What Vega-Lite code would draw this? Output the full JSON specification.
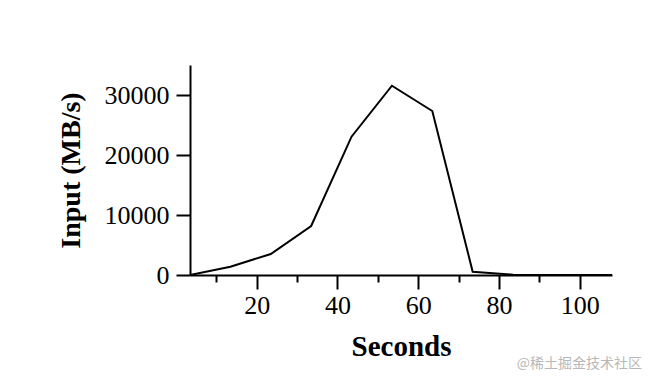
{
  "$schema": "https://vega.github.io/schema/vega-lite/v6.json",
  "autosize": {"type": "none"},
  "width": 422,
  "height": 210,
  "padding": {"left": 190, "top": 65, "right": 44, "bottom": 109},
  "background": "white",
  "config": {
    "view": {"stroke": null},
    "font": "Liberation Serif",
    "axis": {"grid": false, "domainColor": "black", "tickColor": "black", "domainWidth": 2, "tickWidth": 2, "labelColor": "black", "titleColor": "black", "labelFont": "Liberation Serif", "titleFont": "Liberation Serif"}
  },
  "title": {
    "text": "@稀土掘金技术社区",
    "orient": "bottom",
    "anchor": "end",
    "frame": "group",
    "font": "Noto Sans CJK SC",
    "fontSize": 14,
    "fontWeight": "normal",
    "color": "#b8b8b8",
    "offset": -4,
    "dx": 30
  },
  "data": {"values": [
    {"t": 3.5, "v": 0},
    {"t": 13.5, "v": 1380},
    {"t": 23.5, "v": 3500},
    {"t": 33.5, "v": 8170},
    {"t": 43.5, "v": 23050},
    {"t": 53.5, "v": 31550},
    {"t": 63.5, "v": 27330},
    {"t": 73.5, "v": 550},
    {"t": 83.5, "v": 60},
    {"t": 93.5, "v": 10},
    {"t": 103.5, "v": 0},
    {"t": 108, "v": 0}
  ]},
  "resolve": {"axis": {"x": "independent"}},
  "layer": [
    {
      "mark": {"type": "line", "color": "black", "strokeWidth": 2, "clip": true},
      "encoding": {
        "x": {"field": "t", "type": "quantitative", "scale": {"domain": [3.5, 108], "nice": false, "zero": false},
          "axis": {"orient": "bottom", "values": [20, 40, 60, 80, 100], "tickSize": 14, "labelFontSize": 26, "labelPadding": 3, "title": "Seconds", "titleFontSize": 29, "titleFontWeight": "bold", "titlePadding": 14, "labelFlush": false}},
        "y": {"field": "v", "type": "quantitative", "scale": {"domain": [0, 35000], "nice": false},
          "axis": {"values": [0, 10000, 20000, 30000], "format": "d", "tickSize": 14, "labelFontSize": 26, "labelPadding": 7, "title": "Input (MB/s)", "titleFontSize": 28, "titleFontWeight": "bold", "titlePadding": 19, "labelFlush": false}}
      }
    },
    {
      "mark": {"type": "line", "opacity": 0},
      "encoding": {
        "x": {"field": "t", "type": "quantitative", "scale": {"domain": [3.5, 108], "nice": false, "zero": false},
          "axis": {"orient": "bottom", "values": [10, 30, 50, 70, 90], "tickSize": 7, "labels": false, "domain": false, "title": null}},
        "y": {"field": "v", "type": "quantitative"}
      }
    }
  ]
}
